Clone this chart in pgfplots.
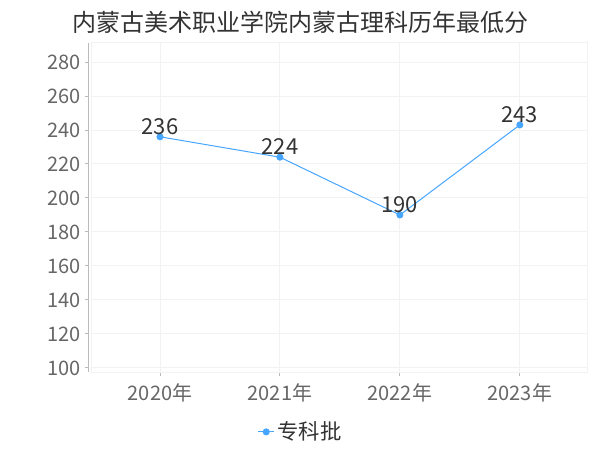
\documentclass[border=0pt]{standalone}
\usepackage{pgfplots}
\pgfplotsset{compat=1.18}
\usepackage{fontspec}
\setmainfont{Noto Sans CJK SC}
\definecolor{ser}{HTML}{46A6FF}
\definecolor{tk}{HTML}{666666}
\definecolor{txt}{HTML}{333333}
\definecolor{grd}{HTML}{F2F2F2}
\definecolor{axl}{HTML}{BBBBBB}
\begin{document}
\begin{tikzpicture}
% 1px = 0.75pt; axis box south-west corner sits at the origin
\useasboundingbox (-69pt,-58.5pt) rectangle (381pt,279pt);
\node[text=txt,font=\fontsize{18}{21}\selectfont] at (156.4pt,262.5pt) {内蒙古美术职业学院内蒙古理科历年最低分};
\begin{axis}[
  at={(0,0)}, anchor=south west,
  width=371.25pt, height=246.75pt, scale only axis,
  xmin=-0.567, xmax=3.56, ymin=97.6, ymax=291.2,
  xtick={0,1,2,3}, xticklabels={2020年,2021年,2022年,2023年},
  ytick={100,120,...,280},
  axis x line*=bottom, axis y line*=left,
  axis y line shift=2.25pt,
  axis line style={axl, line width=0.75pt},
  tick style={axl, line width=0.75pt},
  major tick length=3pt, tick align=outside,
  grid=major, major grid style={grd, line width=0.75pt},
  /pgf/number format/assume math mode=true,
  ticklabel style={text=tk, font=\fontsize{15}{18}\selectfont},
  xticklabel style={yshift=-2pt},
  yticklabel style={xshift=0.2pt},
  nodes near coords,
  every node near coord/.append style={font=\fontsize{16.5}{19}\selectfont, text=txt, anchor=south, inner sep=1.5pt},
  legend style={at={(0.422,-0.182)}, anchor=center, draw=none, fill=none,
    font=\fontsize{16}{19}\selectfont, text=txt,
    legend image code/.code={\draw[mark repeat=2,mark phase=2,#1] plot coordinates {(0cm,0cm)(0.21cm,0cm)(0.42cm,0cm)};}},
  clip=false,
]
\draw[grd, line width=0.75pt] (rel axis cs:0,0) rectangle (rel axis cs:1,1);
\addplot[ser, line width=0.75pt, mark=*, mark size=2.25pt] coordinates {
  (0,236) (1,224) (2,190) (3,243)
};
\addlegendentry{专科批}
\end{axis}
\end{tikzpicture}
\end{document}
